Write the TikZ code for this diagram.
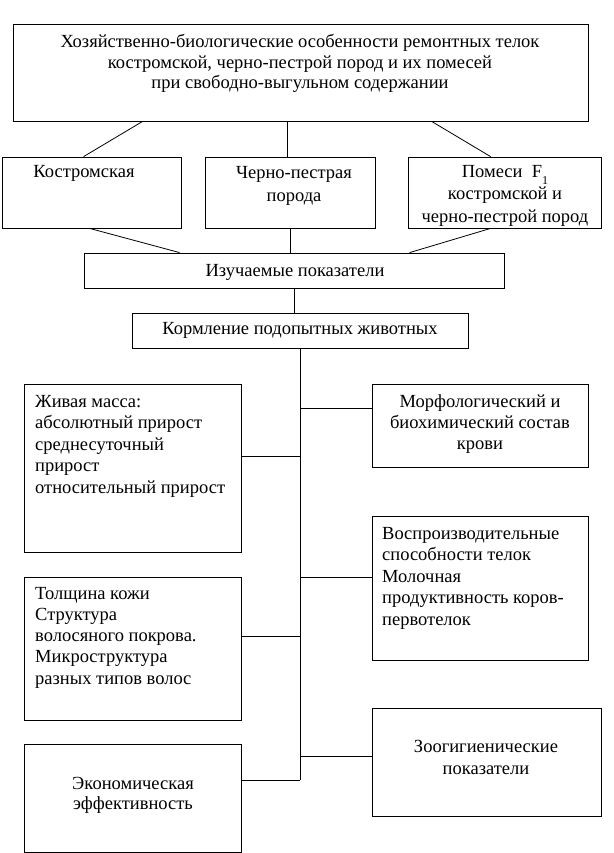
\documentclass[tikz,border=0pt]{standalone}
\usepackage{fontspec}
\setmainfont{Liberation Serif}
\usetikzlibrary{calc}
\tikzset{
  box/.style={draw, line width=0.8pt, inner sep=0pt},
  txt/.style={inner sep=0pt, font=\fontsize{18.5}{21.5}\selectfont},
  lnk/.style={line width=0.8pt},
}
\begin{document}
\begin{tikzpicture}[x=1pt,y=-1pt]
\useasboundingbox (0,0) rectangle (613,853);
% boxes
\node[box, minimum width=575pt, minimum height=97pt] (top) at (300.5,72.5) {};
\node[box, minimum width=179pt, minimum height=71pt] (kost) at (91.5,192.5) {};
\node[box, minimum width=170pt, minimum height=71pt] (chp) at (290,192.5) {};
\node[box, minimum width=193pt, minimum height=71pt] (pom) at (504.5,192.5) {};
\node[box, minimum width=420pt, minimum height=35pt] (izuch) at (294,270.5) {};
\node[box, minimum width=336pt, minimum height=35pt] (korm) at (300,330.5) {};
\node[box, minimum width=217pt, minimum height=168pt] (zhiv) at (132.5,468) {};
\node[box, minimum width=216pt, minimum height=83pt] (morph) at (480,425.5) {};
\node[box, minimum width=216pt, minimum height=144pt] (vospr) at (480,588) {};
\node[box, minimum width=217pt, minimum height=143pt] (tolsh) at (132.5,648.5) {};
\node[box, minimum width=229pt, minimum height=108pt] (zoo) at (486.5,762) {};
\node[box, minimum width=217pt, minimum height=108pt] (ekon) at (132.5,798) {};

% texts (base = last line)
\node[txt, align=center, anchor=base, font=\fontsize{18.5}{20.5}\selectfont] (toptxt) at (300,89)
  {Хозяйственно-биологические особенности ремонтных телок\\
   костромской, черно-пестрой пород и их помесей\\
   при свободно-выгульном содержании};
\node[txt, anchor=base] (kosttxt) at (84,178) {Костромская};
\node[txt, align=center, anchor=base, font=\fontsize{18.5}{23}\selectfont] (chptxt) at (294,201) {Черно-пестрая\\ порода};
\node[txt, align=center, anchor=base, font=\fontsize{18.5}{22}\selectfont] (pomtxt) at (505,222)
  {Помеси~ F\raisebox{-6pt}{\fontsize{12}{12}\selectfont 1}\\ костромской и\\ черно-пестрой пород};
\node[txt, anchor=base] (izuchtxt) at (295,276) {Изучаемые показатели};
\node[txt, anchor=base] (kormtxt) at (300,334) {Кормление подопытных животных};
\node[txt, align=left, anchor=base west] (zhivtxt) at (35,493)
  {Живая масса:\\ абсолютный прирост\\ среднесуточный\\ прирост\\ относительный прирост};
\node[txt, align=center, anchor=base, font=\fontsize{18.5}{21}\selectfont] (morphtxt) at (480,449)
  {Морфологический и\\ биохимический состав\\ крови};
\node[txt, align=left, anchor=base west] (vosprtxt) at (382,625)
  {Воспроизводительные\\ способности телок\\ Молочная\\ продуктивность коров-\\ первотелок};
\node[txt, align=left, anchor=base west, font=\fontsize{18.5}{21.25}\selectfont] (tolshtxt) at (35,684)
  {Толщина кожи\\ Структура\\ волосяного покрова.\\ Микроструктура\\ разных типов волос};
\node[txt, align=center, anchor=base] (zootxt) at (486,774) {Зоогигиенические\\ показатели};
\node[txt, align=center, anchor=base, font=\fontsize{18.5}{20}\selectfont] (ekontxt) at (133,809) {Экономическая\\ эффективность};

% connectors, upper part
\draw[lnk] ([xshift=130pt]top.south west) -- ([xshift=82pt]kost.north west);
\draw[lnk] ([xshift=275pt]top.south west) -- ([xshift=275pt]top.south west |- chp.north);
\draw[lnk] ([xshift=419pt]top.south west) -- ([xshift=83pt]pom.north west);
\draw[lnk] ([xshift=88pt]kost.south west) -- ([xshift=96pt]izuch.north west);
\draw[lnk] (izuch.north -| chp.south) -- (chp.south);
\draw[lnk] ([xshift=83pt]pom.south west) -- ([xshift=326pt]izuch.north west);
\draw[lnk] ([xshift=-6pt]korm.north) -- ([xshift=-6pt]korm.north |- izuch.south);

% trunk and branches
\coordinate (tend) at (300,780);
\coordinate (j1) at (300,408);
\coordinate (j2) at (300,456);
\coordinate (j3) at (300,577);
\coordinate (j4) at (300,636);
\coordinate (j5) at (300,756);
\draw[lnk] (korm.south) -- (tend);
\draw[lnk] (j1) -- (morph.west |- j1);
\draw[lnk] (zhiv.east |- j2) -- (j2);
\draw[lnk] (j3) -- (vospr.west |- j3);
\draw[lnk] (tolsh.east |- j4) -- (j4);
\draw[lnk] (j5) -- (zoo.west |- j5);
\draw[lnk] (ekon.east |- tend) -- (tend);
\end{tikzpicture}
\end{document}
